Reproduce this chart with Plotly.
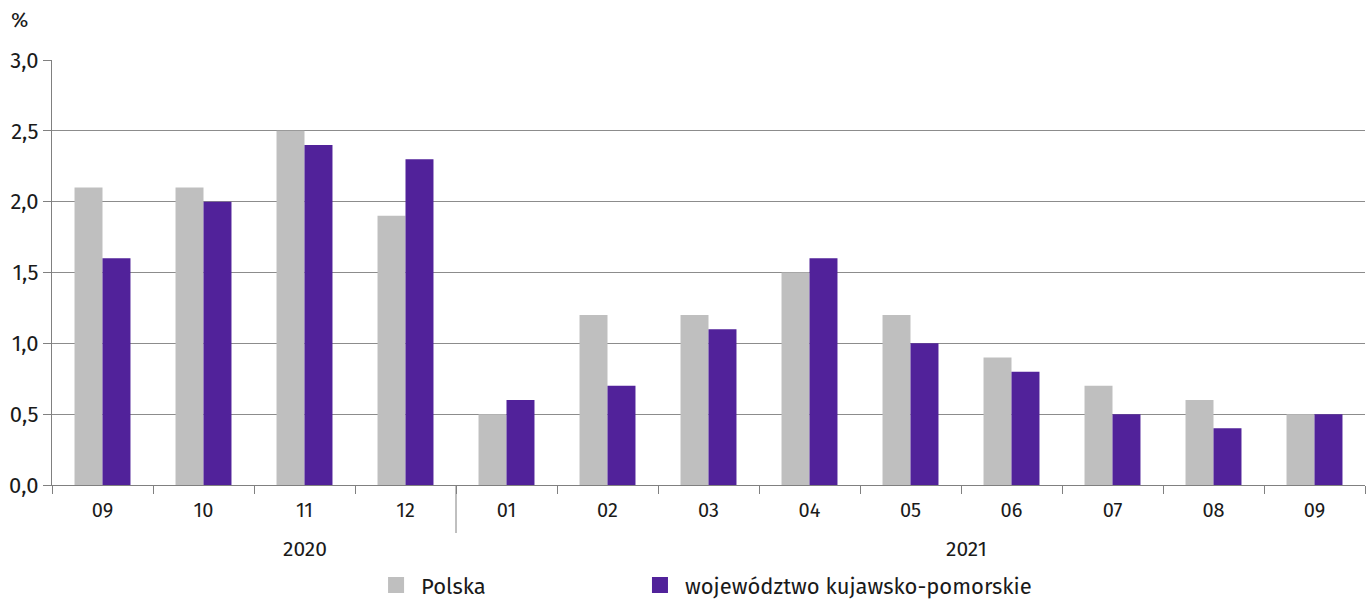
import plotly.graph_objects as go

years = ["2020"] * 4 + ["2021"] * 9
months = ["09", "10", "11", "12", "01", "02", "03", "04", "05", "06", "07", "08", "09"]
polska = [2.1, 2.1, 2.5, 1.9, 0.5, 1.2, 1.2, 1.5, 1.2, 0.9, 0.7, 0.6, 0.5]
kujawsko = [1.6, 2.0, 2.4, 2.3, 0.6, 0.7, 1.1, 1.6, 1.0, 0.8, 0.5, 0.4, 0.5]
y_ticks = [0, 0.5, 1.0, 1.5, 2.0, 2.5, 3.0]
year_label_pos = {"2020": 2.0, "2021": 8.55}

FONT = "Fira Sans, Open Sans, Noto Sans, sans-serif"
GRAY = "#bfbfbf"
PURPLE = "#51229a"
AXIS = "#808080"
TXT = "#1a1a1a"

idx = list(range(len(months)))

fig = go.Figure()
fig.add_trace(go.Bar(x=idx, y=polska, name="Polska", showlegend=False,
                     marker=dict(color=GRAY, line=dict(width=0))))
fig.add_trace(go.Bar(x=idx, y=kujawsko, name="województwo kujawsko-pomorskie", showlegend=False,
                     marker=dict(color=PURPLE, line=dict(width=0))))
# legend-only entries
fig.add_trace(go.Scatter(x=[None], y=[None], mode="markers", name="Polska", legend="legend",
                         marker=dict(symbol="square", size=18, color=GRAY)))
fig.add_trace(go.Scatter(x=[None], y=[None], mode="markers", name="województwo kujawsko-pomorskie",
                         legend="legend2", marker=dict(symbol="square", size=18, color=PURPLE)))
# invisible trace on second x axis for boundary ticks
fig.add_trace(go.Scatter(x=[None], y=[None], xaxis="x2", showlegend=False, hoverinfo="skip"))

annotations = [dict(text="%", xref="paper", yref="paper", x=-0.025, y=1.0, yshift=40,
                    xanchor="center", yanchor="middle", showarrow=False, font=dict(size=21))]
shapes = []
for yr, xpos in year_label_pos.items():
    annotations.append(dict(text=yr, xref="x", yref="paper", x=xpos,
                            y=-0.151, xanchor="center", yanchor="middle", showarrow=False,
                            font=dict(size=21)))
for i in range(1, len(years)):
    if years[i] != years[i - 1]:
        shapes.append(dict(type="line", xref="x", yref="paper", x0=i - 0.5, x1=i - 0.5,
                           y0=0, y1=-0.113, line=dict(color=AXIS, width=1)))

boundaries = [i - 0.5 for i in range(len(months) + 1)]

fig.update_layout(
    width=1367, height=601,
    margin=dict(l=52, r=2, t=60, b=116, autoexpand=False),
    plot_bgcolor="white", paper_bgcolor="white",
    barmode="group", bargap=0.446, bargroupgap=0,
    separators=", ",
    font=dict(family=FONT, size=20, color=TXT),
    showlegend=True,
    legend=dict(orientation="h", x=0.243, xanchor="left", y=-0.236, yanchor="middle",
                font=dict(size=22), bgcolor="rgba(0,0,0,0)", itemwidth=40),
    legend2=dict(orientation="h", x=0.444, xanchor="left", y=-0.236, yanchor="middle",
                 font=dict(size=22), bgcolor="rgba(0,0,0,0)", itemwidth=40),
    annotations=annotations,
    shapes=shapes,
    xaxis=dict(range=[-0.5, len(months) - 0.5], tickvals=idx, ticktext=months,
               showline=True, linecolor=AXIS, linewidth=1,
               ticks="outside", ticklen=7, tickcolor="rgba(0,0,0,0)",
               tickfont=dict(size=20), showgrid=False, zeroline=False),
    xaxis2=dict(overlaying="x", matches="x", anchor="y", side="bottom",
                tickvals=boundaries, showticklabels=False,
                ticks="outside", ticklen=8, tickcolor=AXIS, tickwidth=1,
                showgrid=False, zeroline=False, showline=False),
    yaxis=dict(range=[0, 3], tickvals=y_ticks, tickformat=".1f",
               showgrid=True, gridcolor="#8c8c8c", gridwidth=1,
               showline=True, linecolor=AXIS, linewidth=1,
               ticks="outside", ticklen=8, tickcolor=AXIS,
               tickfont=dict(size=22), zeroline=False),
)

fig.write_html("out.html", config={"displayModeBar": False},
               post_script="document.body.style.margin='0';document.body.style.overflow='hidden';")
